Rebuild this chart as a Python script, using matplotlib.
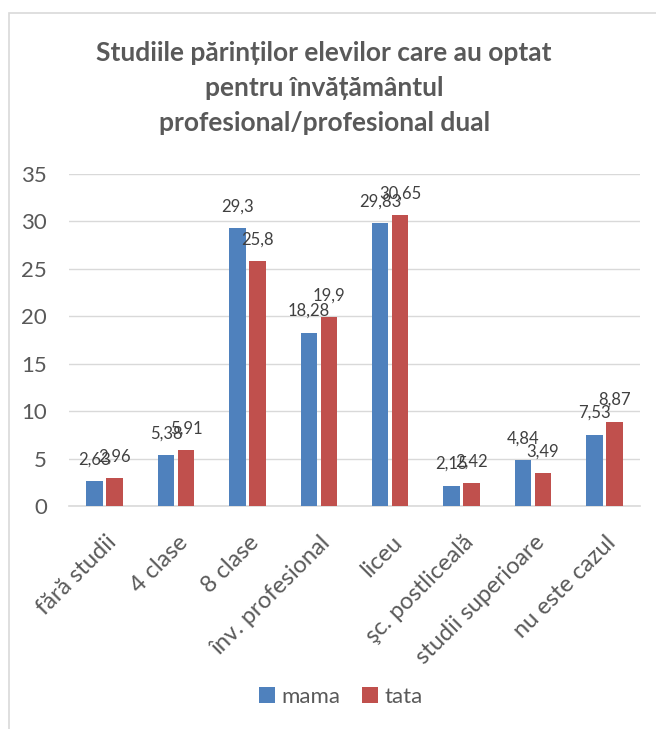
import numpy as np
import matplotlib.pyplot as plt
import matplotlib.transforms as mtransforms
from matplotlib.patches import Rectangle

plt.rcParams['font.family'] = ['Lato', 'DejaVu Sans']

categories = ['fără studii', '4 clase', '8 clase', 'înv. profesional', 'liceu',
              'şc. postliceală', 'studii superioare', 'nu este cazul']
mama = [2.63, 5.38, 29.3, 18.28, 29.83, 2.15, 4.84, 7.53]
tata = [2.96, 5.91, 25.8, 19.9, 30.65, 2.42, 3.49, 8.87]

gray = '#595959'
blue = '#4F81BD'
red = '#C0504D'

fig = plt.figure(figsize=(6.56, 7.29), dpi=100)
# chart border
fig.patches.append(Rectangle((9 / 656, -0.01), 1.0, (729 - 13) / 729 + 0.01,
                             transform=fig.transFigure, fill=False,
                             edgecolor='#D9D9D9', linewidth=1.2))

ax = fig.add_axes([69 / 656, (729 - 506) / 729, 571 / 656, 332 / 729])
x = np.arange(len(categories))
w = 0.23
b1 = ax.bar(x - w / 2 - 0.025, mama, w, color=blue, label='mama', zorder=3)
b2 = ax.bar(x + w / 2 + 0.025, tata, w, color=red, label='tata', zorder=3)

def fmt(v):
    return ('%g' % v).replace('.', ',')

for bars, vals in ((b1, mama), (b2, tata)):
    for r, v in zip(bars, vals):
        ax.text(r.get_x() + r.get_width() / 2, v + 1.45, fmt(v), ha='center',
                va='bottom', fontsize=12, color='#404040', zorder=4)

ax.set_ylim(0, 35)
ax.set_xlim(-0.5, len(categories) - 0.5)
ax.set_yticks(range(0, 36, 5))
ax.grid(axis='y', color='#D9D9D9', linewidth=1, zorder=0)
for s in ('top', 'right', 'left'):
    ax.spines[s].set_visible(False)
ax.spines['bottom'].set_color('#D9D9D9')
ax.spines['bottom'].set_linewidth(1.2)
ax.tick_params(axis='both', length=0, colors=gray)
ax.tick_params(axis='y', pad=16, labelsize=16)
ax.tick_params(axis='x', pad=24, labelsize=17)
ax.set_xticks(x)
shift = mtransforms.ScaledTranslation(6 / 72, 0, fig.dpi_scale_trans)
for lbl in ax.set_xticklabels(categories, rotation=45, ha='right', va='center',
                              rotation_mode='anchor'):
    lbl.set_transform(lbl.get_transform() + shift)

fig.text(0.494, 0.879, 'Studiile părinților elevilor care au optat\npentru învățământul\nprofesional/profesional dual',
         ha='center', va='center', fontsize=19, fontweight='bold', color=gray,
         linespacing=1.55)

fig.legend(handles=[b1, b2], labels=['mama', 'tata'], loc='center',
           bbox_to_anchor=(341 / 656, 1 - 697 / 729), ncol=2, frameon=False,
           fontsize=16, labelcolor=gray, handlelength=0.7, handleheight=0.7,
           handletextpad=0.3, columnspacing=1.0)

fig.savefig('out.png', dpi=100)
